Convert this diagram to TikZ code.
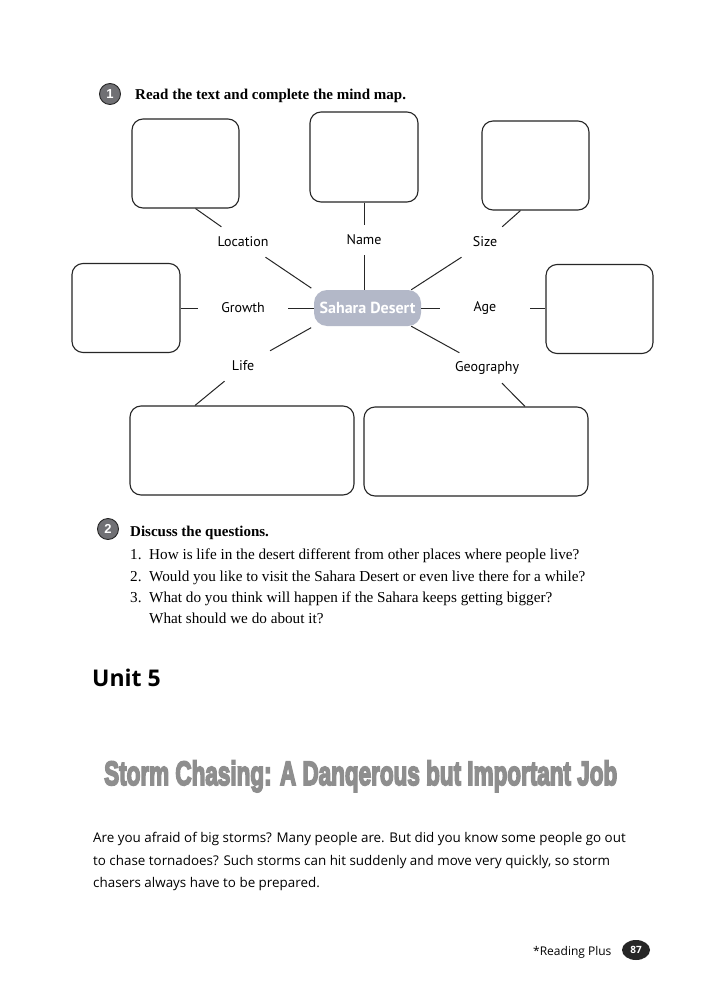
\documentclass[tikz,border=0pt]{standalone}
\usepackage{fontspec}
\setmainfont{Liberation Serif}
\newfontfamily\osans{Open Sans}
\newfontfamily\ptsans{PT Sans}
\newfontfamily\lsans{Liberation Sans}
\usetikzlibrary{shapes.geometric}
\definecolor{pillgray}{HTML}{B3B8C8}
\definecolor{circgray}{HTML}{707074}
\definecolor{titlefill}{HTML}{8E8E8E}
\begin{document}
\begin{tikzpicture}[x=1pt,y=-1pt,
  box/.style={draw=black!85, line width=1.1pt, rounded corners=11pt, inner sep=0pt},
  lbl/.style={font=\ptsans\fontsize{14}{16}\selectfont, minimum width=90pt, minimum height=30pt, inner sep=0pt},
  conn/.style={line width=1pt, draw=black!85},
  numcirc/.style={circle, draw=black!85, line width=0.9pt, fill=circgray, text=white, minimum size=21pt, inner sep=0pt, font=\lsans\bfseries\fontsize{13}{13}\selectfont},
  serif/.style={font=\fontsize{15.2}{17}\selectfont, anchor=base west, inner sep=0pt},
  body/.style={font=\osans\fontsize{13.4}{15}\selectfont, anchor=base west, inner sep=0pt}]
\useasboundingbox (0,0) rectangle (702,992);
\fill[white] (0,0) rectangle (702,992);

% exercise 1 heading
\node[numcirc] (c1) at (110,94) {1};
\node[serif, font=\bfseries\fontsize{15}{17}\selectfont] (h1) at (135,100) {Read the text and complete the mind map.};

% boxes
\node[box, minimum width=107pt, minimum height=89pt] (locbox) at (185.5,163.5) {};
\node[box, minimum width=108pt, minimum height=90pt] (namebox) at (364,157) {};
\node[box, minimum width=107pt, minimum height=89pt] (sizebox) at (535.5,165.5) {};
\node[box, minimum width=108pt, minimum height=89pt] (growthbox) at (126,308) {};
\node[box, minimum width=107pt, minimum height=89pt] (agebox) at (599.5,309) {};
\node[box, minimum width=224pt, minimum height=89pt] (lifebox) at (242,450.5) {};
\node[box, minimum width=224pt, minimum height=89pt] (geobox) at (476,451.5) {};

% centre
\node[fill=pillgray, rounded corners=13pt, minimum width=107pt, minimum height=36pt, inner sep=0pt, text=white, font=\ptsans\bfseries\fontsize{16}{18}\selectfont] (pill) at (367.5,308) {Sahara Desert};

% labels
\node[lbl] (loc) at (243,242) {Location};
\node[lbl] (name) at (364,240) {Name};
\node[lbl] (size) at (485,242) {Size};
\node[lbl] (growth) at (243,308) {Growth};
\node[lbl] (age) at (485,308) {Age};
\node[lbl] (life) at (243,366) {Life};
\node[lbl] (geo) at (487,368) {Geography};

% connectors
\draw[conn] ([xshift=10pt]locbox.south) -- (loc);
\draw[conn, shorten >=3pt] (loc) -- (pill.north west);
\draw[conn] (namebox) -- (name);
\draw[conn] (name) -- (name |- pill.north);
\draw[conn] (size) -- ([xshift=-15pt]sizebox.south);
\draw[conn] (size) -- ([xshift=-10pt]pill.north east);
\draw[conn] (growthbox) -- (growth);
\draw[conn] (growth) -- (pill);
\draw[conn] (pill) -- (age);
\draw[conn] (age) -- (age -| agebox.west);
\draw[conn, shorten >=3pt] (life) -- (pill.south west);
\draw[conn] (life) -- ([xshift=-47pt]lifebox.north);
\draw[conn] (geo) -- ([xshift=-10pt]pill.south east);
\draw[conn] (geo) -- ([xshift=49pt]geobox.north);

% exercise 2
\node[numcirc] (c2) at (108,529) {2};
\node[serif, font=\bfseries\fontsize{15}{17}\selectfont] (h2) at (130,536) {Discuss the questions.};
\node[serif] (n1) at (130,559) {1.};
\node[serif] (q1) at (149,559) {How is life in the desert different from other places where people live?};
\node[serif] (n2) at (130,581) {2.};
\node[serif] (q2) at (149,581) {Would you like to visit the Sahara Desert or even live there for a while?};
\node[serif] (n3) at (130,602) {3.};
\node[serif] (q3) at (149,602) {What do you think will happen if the Sahara keeps getting bigger?};
\node[serif] (q3b) at (149,623) {What should we do about it?};

% unit
\node[anchor=base west, inner sep=0pt, font=\osans\bfseries\fontsize{23}{26}\selectfont] (unit) at (92,686) {Unit 5};

% title
\node[anchor=base west, inner sep=0pt] (title) at (104,785) {\resizebox{513pt}{24.5pt}{\special{pdf:literal direct 2 Tr 0.55 w 0.15 0.15 0.15 RG}\textcolor{titlefill}{\lsans\bfseries Storm Chasing: A Danqerous but Important Job}\special{pdf:literal direct 0 Tr}}};

% body text
\node[body] (b1) at (93,842) {Are you afraid of big storms? Many people are. But did you know some people go out};
\node[body] (b2) at (93,865) {to chase tornadoes? Such storms can hit suddenly and move very quickly, so storm};
\node[body] (b3) at (93,887) {chasers always have to be prepared.};

% footer
\node[anchor=base west, inner sep=0pt, font=\osans\fontsize{12}{14}\selectfont] (foot) at (533,955) {*Reading Plus};
\node[ellipse, fill=black!85, minimum width=28pt, minimum height=20pt, inner sep=0pt, text=white, font=\osans\bfseries\fontsize{10}{10}\selectfont] (pg) at (636,950) {87};
\end{tikzpicture}
\end{document}
